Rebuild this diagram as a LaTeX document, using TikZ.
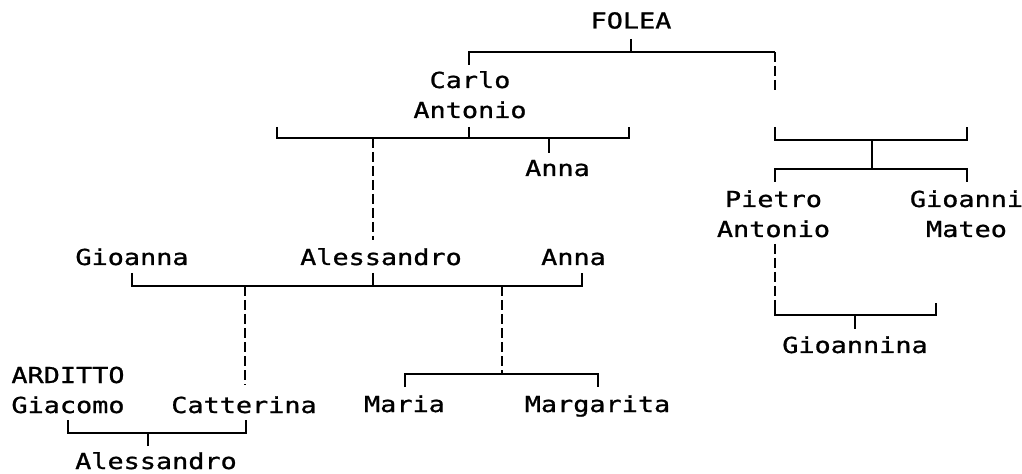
\documentclass[tikz,border=0pt]{standalone}
\usepackage{fontspec}
\setmonofont[FakeStretch=1.22,FakeBold=1]{DejaVu Sans Mono}
\usetikzlibrary{positioning}

\begin{document}
\begin{tikzpicture}[
        x=0.75pt, y=-0.75pt,
        person/.style={
            anchor=base, inner sep=0pt, align=center,
            font=\ttfamily\fontsize{16.5pt}{22.5pt}\selectfont
        },
        link/.style={line width=1.5pt},
        dashlink/.style={line width=1.5pt, dash pattern=on 7.5pt off 3pt}
    ]
    \useasboundingbox (0,0) rectangle (1022,474);

    % people (base = last line)
    \node[person] (folea)       at (631,28.5)  {FOLEA};
    \node[person] (carlo)       at (470,118)   {Carlo\\Antonio};
    \node[person] (annaA)       at (557.5,176) {Anna};
    \node[person] (pietro)      at (773.5,237) {Pietro\\Antonio};
    \node[person] (gioanni)     at (966.5,237) {Gioanni\\Mateo};
    \node[person] (gioanna)     at (132,265)   {Gioanna};
    \node[person] (alessandro)  at (381,265)   {Alessandro};
    \node[person] (annaB)       at (573.5,265) {Anna};
    \node[person] (giacomo)     at (68,413)    {ARDITTO\\Giacomo};
    \node[person] (catterina)   at (244,413)   {Catterina};
    \node[person] (maria)       at (404.5,412) {Maria};
    \node[person] (margarita)   at (597.5,412) {Margarita};
    \node[person] (gioannina)   at (855,353)   {Gioannina};
    \node[person] (alessandroB) at (156,469)   {Alessandro};

    % FOLEA
    \coordinate (folea-t)  at (631,39);
    \coordinate (folea-l)  at (469,52);
    \coordinate (folea-r)  at (775,52);
    \coordinate (carlo-t)  at (469,65);
    \coordinate (sibs-t)   at (775,92);
    \draw[link] (folea-t) -- (folea-t |- folea-l);
    \draw[link] (carlo-t) -- (folea-l) -- (folea-r);
    \draw[dashlink] (folea-r) -- (sibs-t);

    % Carlo Antonio
    \coordinate (carlo-b)  at (469,127);
    \coordinate (wifeA)    at (277,127);
    \coordinate (wifeB)    at (629,127);
    \coordinate (carlo-y)  at (0,138);
    \coordinate (annaA-t)  at (549,153);
    \coordinate (ales-t)   at (373,240);
    \draw[link] (wifeA) |- (wifeB |- carlo-y) -- (wifeB);
    \draw[link] (carlo-b) -- (carlo-b |- carlo-y);
    \draw[link] (annaA-t) -- (annaA-t |- carlo-y);
    \draw[dashlink] (ales-t |- carlo-y) -- (ales-t);

    % other branch
    \coordinate (sibs-l)   at (775,127);
    \coordinate (sibs-r)   at (967,127);
    \coordinate (sibs-m)   at (872,140);
    \coordinate (kids-m)   at (872,169);
    \coordinate (pietro-t) at (775,182);
    \coordinate (gioan-t)  at (967,182);
    \draw[link] (sibs-l) |- (sibs-r |- sibs-m) -- (sibs-r);
    \draw[link] (sibs-m) -- (kids-m);
    \draw[link] (pietro-t) |- (gioan-t |- kids-m) -- (gioan-t);

    % Pietro Antonio
    \coordinate (pietro-b) at (775,244);
    \coordinate (pietro-c) at (775,303);
    \coordinate (pwife)    at (936,303);
    \coordinate (pbar)     at (0,315);
    \coordinate (gina-t)   at (855,329);
    \draw[dashlink] (pietro-b) -- (pietro-c);
    \draw[link] (pietro-c) |- (pwife |- pbar) -- (pwife);
    \draw[link] (gina-t) -- (gina-t |- pbar);

    % Alessandro
    \coordinate (ales-b)   at (373,273);
    \coordinate (gioanna-b) at (132,273);
    \coordinate (annaB-b)  at (582,273);
    \coordinate (ales-y)   at (0,286);
    \coordinate (catt-t)   at (245,385);
    \coordinate (daugh-m)  at (501.7,374);
    \coordinate (maria-t)  at (405,387);
    \coordinate (marg-t)   at (598,387);
    \draw[link] (gioanna-b) |- (annaB-b |- ales-y) -- (annaB-b);
    \draw[link] (ales-b) -- (ales-b |- ales-y);
    \draw[dashlink] (catt-t |- ales-y) -- (catt-t);
    \draw[dashlink] (daugh-m |- ales-y) -- (daugh-m);
    \draw[link] (maria-t) |- (marg-t |- daugh-m) -- (marg-t);

    % ARDITTO
    \coordinate (giac-b)   at (68,420);
    \coordinate (catt-b)   at (245.7,420);
    \coordinate (ard-y)    at (0,432.7);
    \coordinate (alesB-t)  at (148,446);
    \draw[link] (giac-b) |- (catt-b |- ard-y) -- (catt-b);
    \draw[link] (alesB-t) -- (alesB-t |- ard-y);
\end{tikzpicture}
\end{document}
